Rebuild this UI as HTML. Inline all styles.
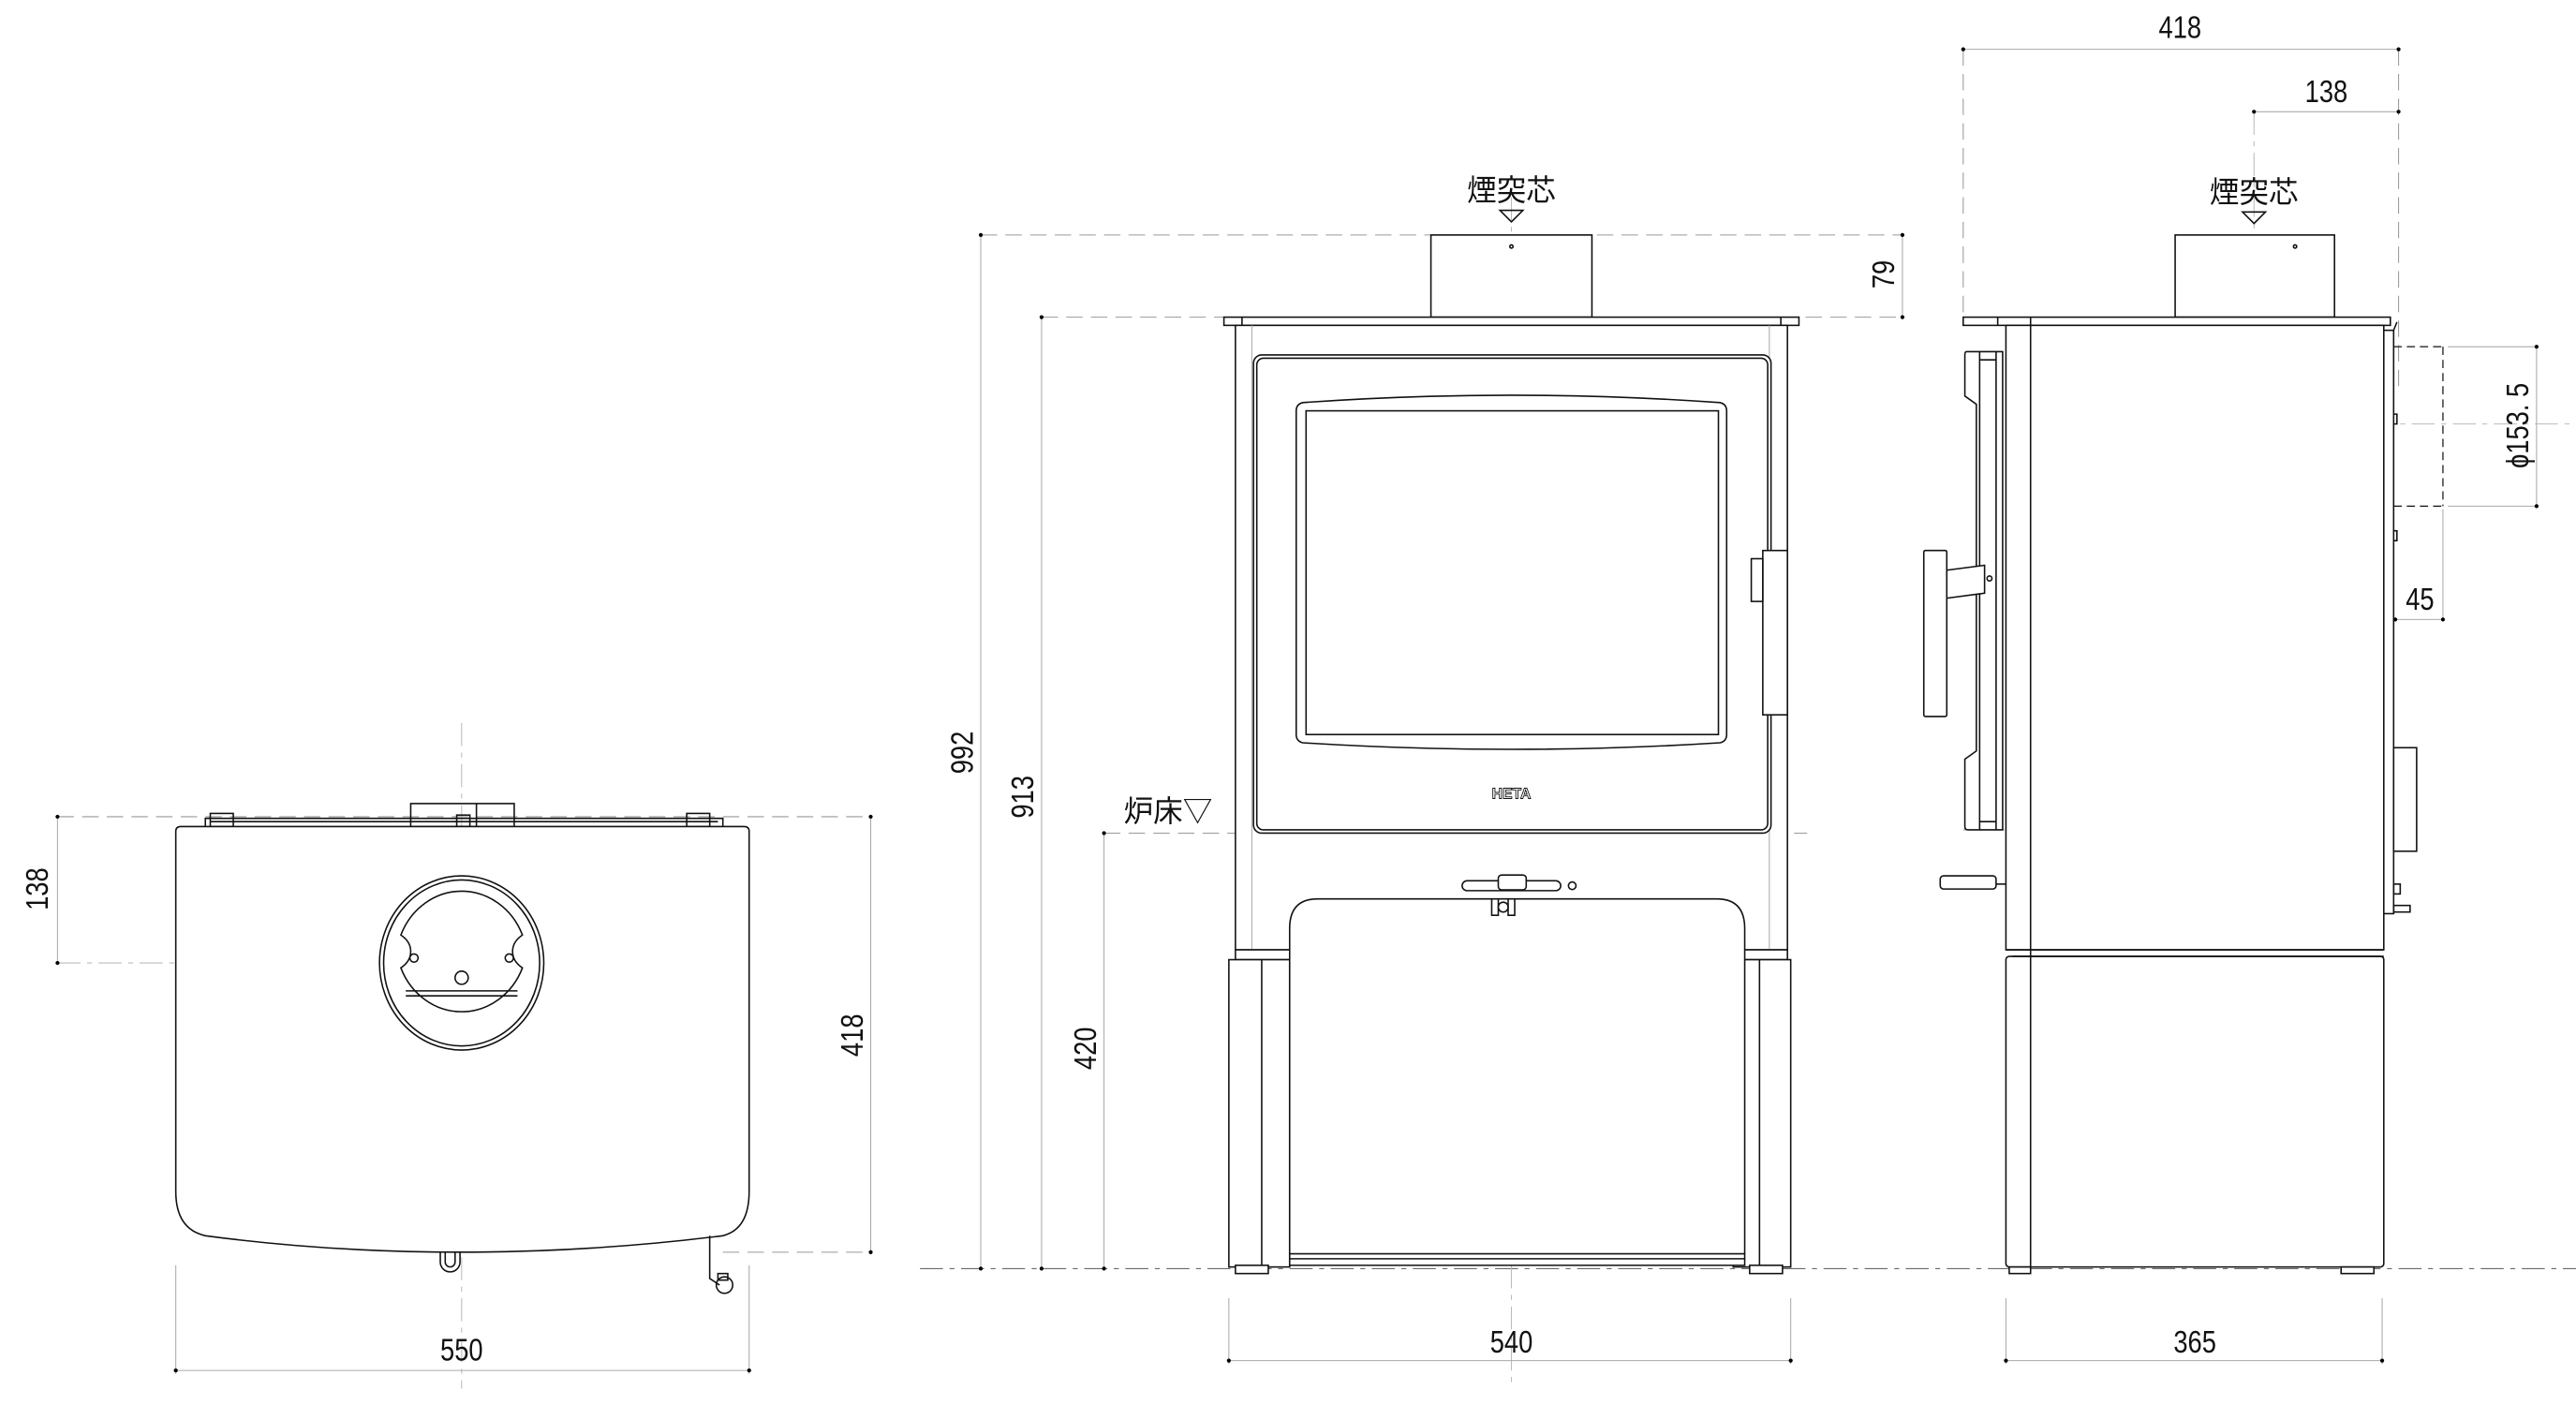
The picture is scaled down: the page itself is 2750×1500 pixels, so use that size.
<!DOCTYPE html>
<html><head><meta charset="utf-8"><style>
html,body{margin:0;padding:0;background:#fff;}
svg{display:block;}
text{font-family:"Liberation Sans","Noto Sans CJK JP",sans-serif;fill:#111;}
.s{fill:none;stroke:#111;stroke-width:0.9;}
.w{fill:#fff;stroke:#111;stroke-width:0.9;}
.d{fill:none;stroke:#aaa;stroke-width:0.6;}
.c{fill:none;stroke:#bbb;stroke-width:0.6;stroke-dasharray:14 4 3 4;}
.k{fill:none;stroke:#999;stroke-width:0.6;stroke-dasharray:10 5;}
.n{font-size:19px;}
.j{font-size:18px;}
</style></head><body>
<svg width="2750" height="1500" viewBox="0 0 1568 855" preserveAspectRatio="none" xmlns="http://www.w3.org/2000/svg">
<!-- ========== TOP VIEW ========== -->
<line class="c" x1="281" y1="440" x2="281" y2="845"/>
<line class="c" x1="35" y1="586" x2="380" y2="586"/>
<line class="k" x1="35" y1="497" x2="530" y2="497"/>
<line class="k" x1="440" y1="762" x2="530" y2="762"/>
<line class="d" x1="107" y1="770" x2="107" y2="836"/>
<line class="d" x1="456" y1="770" x2="456" y2="836"/>
<rect class="s" x="250" y="489" width="63" height="14"/>
<line class="s" x1="290" y1="489" x2="290" y2="503"/>
<path class="s" d="M125 503 V498 H440 V503 M128 500 H437"/>
<rect class="s" x="128" y="495" width="14" height="8"/><rect class="s" x="418" y="495" width="14" height="8"/>
<rect class="s" x="278" y="496" width="8" height="7"/>
<path class="w" d="M110 503 H453 Q456 503 456 506 V725 Q456 748 440 752 Q360 762 281 762 Q200 762 125 752 Q107 748 107 725 V506 Q107 503 110 503 Z"/>
<ellipse class="s" cx="281" cy="586" rx="50" ry="53"/>
<ellipse class="s" cx="281" cy="586" rx="47.5" ry="50.5"/>
<path class="s" d="M244 569 A40 43 0 0 1 318 569 Q312 573 312 579 Q312 585 318 589 A40 43 0 0 1 244 589 Q250 585 250 579 Q250 573 244 569 Z"/>
<circle class="s" cx="252" cy="583" r="2.5"/><circle class="s" cx="310" cy="583" r="2.5"/>
<circle class="s" cx="281" cy="595" r="4"/>
<line class="s" x1="247" y1="603" x2="315" y2="603"/><line class="s" x1="247" y1="606" x2="315" y2="606"/>
<path class="s" d="M268 762 V768 A6 6 0 0 0 280 768 V762 M271 762 V768 A3 3 0 0 0 277 768 V762"/>
<path class="s" d="M432 752 V778 L438 782"/><circle class="s" cx="441" cy="782" r="5"/><rect class="s" x="437" y="775" width="6" height="4"/>
<line class="d" x1="35" y1="497" x2="35" y2="586"/><circle cx="35" cy="497" r="1.2"/><circle cx="35" cy="586" r="1.2"/>
<text class="n" transform="translate(29,541) rotate(-90) scale(0.82,1)" text-anchor="middle">138</text>
<line class="d" x1="530" y1="497" x2="530" y2="762"/><circle cx="530" cy="497" r="1.2"/><circle cx="530" cy="762" r="1.2"/>
<text class="n" transform="translate(525,630) rotate(-90) scale(0.82,1)" text-anchor="middle">418</text>
<line class="d" x1="107" y1="834" x2="456" y2="834"/><circle cx="107" cy="834" r="1.2"/><circle cx="456" cy="834" r="1.2"/>
<text class="n" transform="translate(281,828) scale(0.82,1)" text-anchor="middle">550</text>

<!-- ========== FRONT VIEW ========== -->
<line class="c" x1="560" y1="772" x2="1568" y2="772" style="stroke:#555"/>
<line class="c" x1="920" y1="120" x2="920" y2="845"/>
<line class="k" x1="597" y1="143" x2="1158" y2="143"/>
<line class="k" x1="634" y1="193" x2="1158" y2="193"/>
<line class="k" x1="672" y1="507" x2="1100" y2="507"/>
<line class="d" x1="748" y1="790" x2="748" y2="830"/><line class="d" x1="1090" y1="790" x2="1090" y2="830"/>
<rect class="w" x="871" y="143" width="98" height="50"/><circle class="s" cx="920" cy="150" r="1"/>
<rect class="w" x="745" y="193" width="350" height="5"/>
<line class="s" x1="756" y1="193" x2="756" y2="198"/><line class="s" x1="1084" y1="193" x2="1084" y2="198"/>
<rect class="w" x="752" y="198" width="336" height="380"/>
<line class="d" x1="762" y1="198" x2="762" y2="770"/><line class="d" x1="1077" y1="198" x2="1077" y2="770"/>
<rect class="w" x="763" y="216" width="315" height="291" rx="5"/>
<rect class="s" x="765" y="218" width="311" height="287" rx="4"/>
<path class="s" d="M793 245 Q920 236 1047 245 Q1051 246 1051 250 V447 Q1051 451 1047 452 Q920 460 793 452 Q789 451 789 447 V250 Q789 246 793 245 Z"/>
<rect class="s" x="795" y="250" width="251" height="197"/>
<text x="920" y="486" text-anchor="middle" style="font-size:9px;font-weight:bold;fill:#fff;stroke:#111;stroke-width:0.5">HETA</text>
<rect class="w" x="1073" y="335" width="15" height="100"/>
<rect class="s" x="1066" y="340" width="7" height="26"/>
<rect class="w" x="752" y="578" width="336" height="6"/>
<rect class="w" x="748" y="584" width="37" height="187"/><line class="s" x1="768" y1="584" x2="768" y2="771"/>
<rect class="w" x="1055" y="584" width="35" height="187"/><line class="s" x1="1071" y1="584" x2="1071" y2="771"/>
<path class="w" d="M785 770 V565 Q785 547 802 547 H1045 Q1062 547 1062 565 V770 Z"/>
<line class="s" x1="785" y1="763" x2="1062" y2="763"/><line class="s" x1="785" y1="766" x2="1062" y2="766"/>
<rect class="w" x="752" y="770" width="20" height="5"/><rect class="w" x="1065" y="770" width="20" height="5"/>
<rect class="w" x="890" y="536" width="60" height="6" rx="3"/>
<rect class="w" x="912" y="532.5" width="17" height="9" rx="2"/>
<circle class="s" cx="957" cy="539" r="2.3"/>
<path class="s" d="M908 547 V557 H912 V547 M918 547 V557 H922 V547"/><circle class="w" cx="915" cy="552" r="3"/>
<line class="d" x1="597" y1="143" x2="597" y2="772"/><circle cx="597" cy="143" r="1.2"/><circle cx="597" cy="772" r="1.2"/>
<text class="n" transform="translate(592,458) rotate(-90) scale(0.82,1)" text-anchor="middle">992</text>
<line class="d" x1="634" y1="193" x2="634" y2="772"/><circle cx="634" cy="193" r="1.2"/><circle cx="634" cy="772" r="1.2"/>
<text class="n" transform="translate(629,485) rotate(-90) scale(0.82,1)" text-anchor="middle">913</text>
<line class="d" x1="672" y1="507" x2="672" y2="772"/><circle cx="672" cy="507" r="1.2"/><circle cx="672" cy="772" r="1.2"/>
<text class="n" transform="translate(667,638) rotate(-90) scale(0.82,1)" text-anchor="middle">420</text>
<text class="j" x="684" y="500">炉床▽</text>
<line class="d" x1="1158" y1="143" x2="1158" y2="193"/><circle cx="1158" cy="143" r="1.2"/><circle cx="1158" cy="193" r="1.2"/>
<text class="n" transform="translate(1153,167) rotate(-90) scale(0.82,1)" text-anchor="middle">79</text>
<text class="j" x="920" y="122" text-anchor="middle">煙突芯</text>
<path class="s" d="M913 128 H927 L920 135 Z"/>
<line class="d" x1="748" y1="828" x2="1090" y2="828"/><circle cx="748" cy="828" r="1.2"/><circle cx="1090" cy="828" r="1.2"/>
<text class="n" transform="translate(920,823) scale(0.82,1)" text-anchor="middle">540</text>

<!-- ========== SIDE VIEW ========== -->
<line class="c" x1="1372" y1="68" x2="1372" y2="300"/>
<line class="c" x1="1418" y1="258" x2="1568" y2="258"/>
<line class="k" x1="1195" y1="505" x2="1400" y2="505"/>
<line class="k" x1="1195" y1="30" x2="1195" y2="190"/>
<line class="k" x1="1460" y1="30" x2="1460" y2="240"/>
<line class="d" x1="1221" y1="790" x2="1221" y2="830"/><line class="d" x1="1450" y1="790" x2="1450" y2="830"/>
<rect class="w" x="1324" y="143" width="97" height="50"/><circle class="s" cx="1397" cy="150" r="1"/>
<rect class="w" x="1195" y="193" width="260" height="5"/>
<line class="s" x1="1216" y1="193" x2="1216" y2="198"/><line class="s" x1="1236" y1="193" x2="1236" y2="198"/>
<rect class="w" x="1221" y="198" width="230" height="380"/>
<rect class="w" x="1221" y="582" width="230" height="189" rx="2"/>
<line class="s" x1="1221" y1="578" x2="1451" y2="578"/><line class="s" x1="1225" y1="582" x2="1451" y2="582"/>
<line class="s" x1="1236" y1="198" x2="1236" y2="771"/>
<rect class="w" x="1223" y="771" width="13" height="4"/><rect class="w" x="1425" y="771" width="20" height="4"/>
<rect class="w" x="1451" y="201" width="6" height="355"/>
<line class="s" x1="1457" y1="201" x2="1459" y2="196"/>
<path class="s" d="M1457 252 h2 v6 h-2 M1457 323 h2 v6 h-2"/>
<rect class="w" x="1457" y="455" width="14" height="63"/>
<rect class="s" x="1457" y="538" width="4" height="6"/>
<rect class="s" x="1457" y="551" width="10" height="4"/>
<line x1="1457" y1="211" x2="1487" y2="211" style="stroke:#111;stroke-width:0.7;stroke-dasharray:5 3"/>
<line x1="1457" y1="308" x2="1487" y2="308" style="stroke:#111;stroke-width:0.7;stroke-dasharray:5 3"/>
<line x1="1487" y1="211" x2="1487" y2="308" style="stroke:#111;stroke-width:0.7;stroke-dasharray:5 3"/>
<!-- door -->
<path class="w" d="M1219 214 H1197 Q1196 214 1196 216 V241 L1203 246 V457 L1196 462 V503 Q1196 505 1198 505 H1219 Z"/>
<line class="s" x1="1205" y1="214" x2="1205" y2="505"/>
<line class="s" x1="1215" y1="214" x2="1215" y2="505"/>
<line class="s" x1="1205" y1="219" x2="1215" y2="219"/>
<line class="s" x1="1205" y1="500" x2="1215" y2="500"/>
<rect class="w" x="1171" y="335" width="14" height="101" rx="1"/>
<path class="w" d="M1185 347 L1208 344 V361 L1185 364 Z"/>
<circle class="s" cx="1211" cy="352" r="1.5"/>
<rect class="w" x="1181" y="533" width="34" height="8" rx="2"/>
<line class="s" x1="1215" y1="538" x2="1221" y2="538"/>
<!-- side dims -->
<line class="d" x1="1195" y1="30" x2="1460" y2="30"/><circle cx="1195" cy="30" r="1.2"/><circle cx="1460" cy="30" r="1.2"/>
<text class="n" transform="translate(1327,23) scale(0.82,1)" text-anchor="middle">418</text>
<line class="d" x1="1372" y1="68" x2="1460" y2="68"/><circle cx="1372" cy="68" r="1.2"/><circle cx="1460" cy="68" r="1.2"/>
<text class="n" transform="translate(1416,62) scale(0.82,1)" text-anchor="middle">138</text>
<text class="j" x="1372" y="123" text-anchor="middle">煙突芯</text>
<path class="s" d="M1365 129 H1379 L1372 136 Z"/>
<line class="d" x1="1490" y1="211" x2="1544" y2="211"/><line class="d" x1="1490" y1="308" x2="1544" y2="308"/>
<line class="d" x1="1544" y1="211" x2="1544" y2="308"/><circle cx="1544" cy="211" r="1.2"/><circle cx="1544" cy="308" r="1.2"/>
<text class="n" transform="translate(1539,259) rotate(-90) scale(0.82,1)" text-anchor="middle">ϕ153. 5</text>
<line class="d" x1="1487" y1="310" x2="1487" y2="377"/>
<line class="d" x1="1458" y1="377" x2="1487" y2="377"/><circle cx="1458" cy="377" r="1.2"/><circle cx="1487" cy="377" r="1.2"/>
<text class="n" transform="translate(1473,371) scale(0.82,1)" text-anchor="middle">45</text>
<line class="d" x1="1221" y1="828" x2="1450" y2="828"/><circle cx="1221" cy="828" r="1.2"/><circle cx="1450" cy="828" r="1.2"/>
<text class="n" transform="translate(1336,823) scale(0.82,1)" text-anchor="middle">365</text>
</svg>
</body></html>
